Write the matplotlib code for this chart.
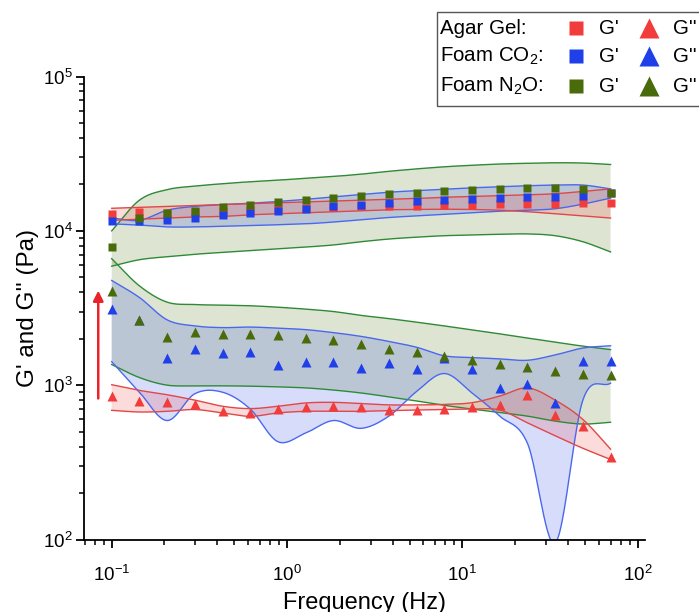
import numpy as np
import matplotlib
matplotlib.use("Agg")
import matplotlib.pyplot as plt
from matplotlib.lines import Line2D
from matplotlib.patches import Rectangle

plt.rcParams['font.family'] = ['Liberation Sans', 'DejaVu Sans']
plt.rcParams['mathtext.fontset'] = 'custom'
plt.rcParams['mathtext.rm'] = 'Liberation Sans'
plt.rcParams['mathtext.it'] = 'Liberation Sans:italic'
plt.rcParams['mathtext.bf'] = 'Liberation Sans:bold'

# ---------------- data ----------------
freq = [0.1, 0.1439, 0.2071, 0.298, 0.4289, 0.6171, 0.888, 1.278, 1.839, 2.646,
        3.808, 5.48, 7.886, 11.35, 16.33, 23.5, 33.81, 48.65, 70.0]

# storage modulus G' (Pa)
agar_Gp = [12800, 13300, 13000, 13300, 13500, 13700, 13900, 14100, 14300, 14400,
           14500, 14500, 14700, 14800, 14900, 15000, 15000, 15200, 15100]
co2_Gp = [11600, 11600, 11800, 12200, 12700, 13000, 13400, 13900, 14400, 14700,
          15100, 15500, 15900, 16100, 16400, 16500, 16600, 16700, 17500]
n2o_Gp = [7900, 12100, 13100, 13500, 14200, 14800, 15300, 15800, 16400, 16800,
          17300, 17700, 18100, 18400, 18700, 18900, 19000, 18800, 17500]

# loss modulus G'' (Pa)
agar_Gpp = [855, 785, 774, 752, 677, 661, 702, 722, 729, 718,
            692, 692, 702, 722, 748, 860, 637, 547, 343]
co2_Gpp = [3110, 2660, 1490, 1710, 1620, 1650, 1360, 1410, 1410, 1290,
           1400, 1270, 1500, 1270, 955, 1020, 767, 1435, 1435]
n2o_Gpp = [4050, 2630, 2050, 2210, 2140, 2140, 2110, 2030, 1950, 1860,
           1720, 1640, 1550, 1460, 1380, 1320, 1240, 1180, 1160]

# shaded bands (upper / lower)
agar_Gp_hi = [14000, 14200, 14400, 14600, 14800, 15000, 15200, 15400, 15600, 15800,
              16000, 16200, 16500, 16700, 16900, 17100, 17400, 18000, 18700]
agar_Gp_lo = [11700, 11900, 12100, 12300, 12400, 12700, 12900, 13100, 13300, 13500,
              13700, 13750, 13800, 13750, 13600, 13300, 12900, 12500, 12100]
co2_Gp_hi = [12100, 11700, 13600, 14400, 14800, 15100, 15500, 16000, 16600, 17200,
             17800, 18200, 18600, 19000, 19300, 19600, 19800, 19800, 18700]
co2_Gp_lo = [11100, 10900, 10600, 10600, 10700, 10800, 10950, 11100, 11400, 11800,
             12200, 12500, 12800, 13100, 13400, 13600, 13900, 14900, 16300]
n2o_Gp_hi = [10000, 15800, 18500, 19500, 20200, 20800, 21300, 21900, 22500, 23300,
             24300, 25200, 26000, 26600, 27100, 27400, 27600, 27500, 26900]
n2o_Gp_lo = [5900, 6500, 6800, 7050, 7250, 7450, 7650, 7850, 8100, 8500,
             8850, 9100, 9300, 9400, 9500, 9550, 9300, 8500, 7300]

agar_Gpp_hi = [1007, 925, 867, 800, 730, 705, 730, 767, 774, 760,
               745, 745, 750, 770, 850, 960, 800, 600, 385]
agar_Gpp_lo = [687, 670, 677, 695, 661, 628, 661, 677, 677, 677,
               685, 690, 695, 700, 690, 570, 470, 390, 330]
co2_Gpp_hi = [4770, 3700, 2650, 2420, 2360, 2380, 2340, 2290, 2190, 2070,
              1920, 1760, 1550, 1510, 1480, 1450, 1570, 1740, 1800]
co2_Gpp_lo = [1420, 900, 590, 880, 900, 700, 430, 490, 590, 525,
              630, 910, 1190, 890, 630, 420, 95, 800, 1030]
n2o_Gpp_hi = [6600, 4400, 3450, 3330, 3300, 3270, 3200, 3110, 3000, 2830,
              2700, 2560, 2420, 2280, 2150, 2020, 1900, 1790, 1700]
n2o_Gpp_lo = [1360, 1120, 1000, 990, 990, 985, 975, 960, 930, 890,
              840, 790, 740, 700, 665, 630, 585, 560, 575]

RED = '#F23B3B'
BLUE = '#1F3FE8'
GREEN = '#4A6B0A'
RED_E = '#E04848'
BLUE_E = '#4A68EE'
GREEN_E = '#2F8A35'


def smooth(x, y, n=24):
    """Catmull-Rom curve through the points, in log-log space."""
    P = np.column_stack([np.log10(x), np.log10(y)])
    P = np.vstack([2 * P[0] - P[1], P, 2 * P[-1] - P[-2]])
    t = np.linspace(0, 1, n, endpoint=False)[:, None]
    segs = []
    for i in range(1, len(P) - 2):
        p0, p1, p2, p3 = P[i - 1], P[i], P[i + 1], P[i + 2]
        seg = 0.5 * (2 * p1 + (-p0 + p2) * t + (2 * p0 - 5 * p1 + 4 * p2 - p3) * t ** 2
                     + (-p0 + 3 * p1 - 3 * p2 + p3) * t ** 3)
        segs.append(seg)
    segs.append(P[-2][None, :])
    out = np.vstack(segs)
    return 10 ** out[:, 0], 10 ** out[:, 1]


W, H = 699, 612
fig = plt.figure(figsize=(W / 100, H / 100), dpi=100)
ax = fig.add_axes([84 / W, 1 - 539.5 / H, (645 - 84) / W, (539.5 - 76.5) / H])
ax.set_xscale('log')
ax.set_yscale('log')

bands = [
    (n2o_Gp_hi, n2o_Gp_lo, GREEN, GREEN_E),
    (n2o_Gpp_hi, n2o_Gpp_lo, GREEN, GREEN_E),
    (co2_Gp_hi, co2_Gp_lo, BLUE, BLUE_E),
    (co2_Gpp_hi, co2_Gpp_lo, BLUE, BLUE_E),
    (agar_Gp_hi, agar_Gp_lo, RED, RED_E),
    (agar_Gpp_hi, agar_Gpp_lo, RED, RED_E),
]
for hi, lo, fc, ec in bands:
    xs, yh = smooth(freq, hi)
    _, yl = smooth(freq, lo)
    ax.fill_between(xs, yl, yh, facecolor=fc, alpha=0.18, edgecolor='none', zorder=1)
    ax.plot(xs, yh, color=ec, lw=1.0, zorder=2)
    ax.plot(xs, yl, color=ec, lw=1.0, zorder=2)

ms_sq = 5.6
ms_tr = 7.6
ax.plot(freq, agar_Gp, 's', color=RED, ms=ms_sq, mec='none', zorder=3)
ax.plot(freq, co2_Gp, 's', color=BLUE, ms=ms_sq, mec='none', zorder=4)
ax.plot(freq, n2o_Gp, 's', color=GREEN, ms=ms_sq, mec='none', zorder=5)
ax.plot(freq, agar_Gpp, '^', color=RED, ms=ms_tr, mec='none', zorder=3)
ax.plot(freq, co2_Gpp, '^', color=BLUE, ms=ms_tr, mec='none', zorder=4)
ax.plot(freq, n2o_Gpp, '^', color=GREEN, ms=ms_tr, mec='none', zorder=5)

# red arrow
ax.annotate('', xy=(0.0838, 4100), xytext=(0.0838, 820),
            arrowprops=dict(arrowstyle='-|>', color='#E8242A', lw=1.8,
                            mutation_scale=15, shrinkA=0, shrinkB=0), zorder=6)

ax.set_xlim(0.0695, 110)
ax.set_ylim(100, 100000)
for s in ['top', 'right']:
    ax.spines[s].set_visible(False)
for s in ['left', 'bottom']:
    ax.spines[s].set_linewidth(1.3)
ax.tick_params(which='major', direction='out', length=6, width=1.3, labelsize=13.5)
ax.tick_params(which='minor', direction='out', length=3.5, width=1.1)
ax.tick_params(axis='x', which='major', pad=12)
ax.tick_params(axis='y', which='major', pad=2)
ax.set_xlabel('Frequency (Hz)', fontsize=17, labelpad=5)
ax.set_ylabel("G' and G'' (Pa)", fontsize=17.5, labelpad=3)

# legend (manual table)
fig.add_artist(Rectangle((436.7 / W, 1 - 106 / H), (720 - 436.7) / W, (106 - 12.3) / H,
                         transform=fig.transFigure, fill=True, facecolor='white',
                         edgecolor='#555555', lw=1.0, zorder=10))
rows = ["Agar Gel:", "Foam CO$_2$:", "Foam N$_2$O:"]
row_y = [28, 56, 86]
cols = [RED, BLUE, GREEN]
for lab, yy, c in zip(rows, row_y, cols):
    fy = 1 - yy / H
    fig.text(440 / W, fy, lab, fontsize=14.8, va='center', ha='left', zorder=11)
    fig.add_artist(Line2D([576 / W], [fy], transform=fig.transFigure, marker='s',
                          color=c, ms=10.5, mec='none', ls='none', zorder=11))
    fig.text(599 / W, fy, "G'", fontsize=14.8, va='center', ha='left', zorder=11)
    fig.add_artist(Line2D([649 / W], [fy], transform=fig.transFigure, marker='^',
                          color=c, ms=14, mec='none', ls='none', zorder=11))
    fig.text(673 / W, fy, "G''", fontsize=14.8, va='center', ha='left', zorder=11)

fig.savefig('out.png', dpi=100)
